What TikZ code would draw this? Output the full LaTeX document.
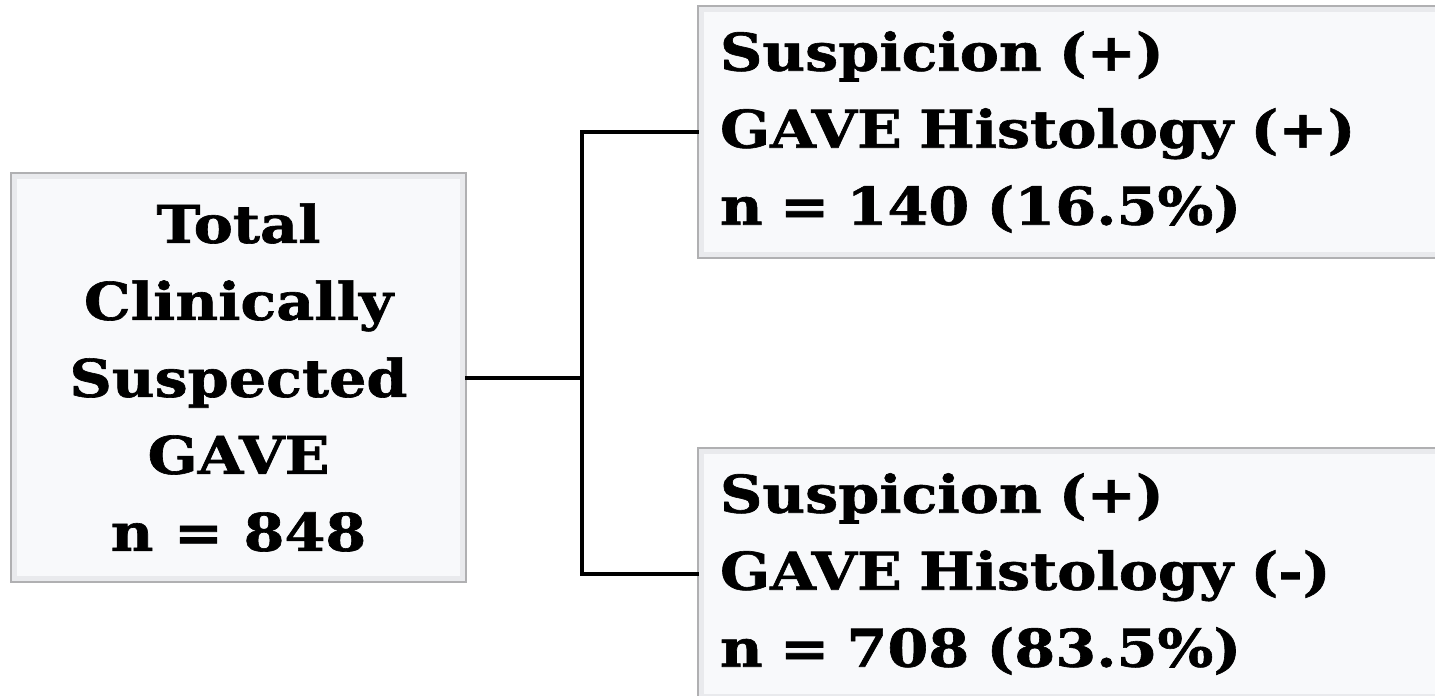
\documentclass[tikz,border=0pt]{standalone}
\usepackage{fontspec}
\setmainfont{DejaVu Serif}[BoldFeatures={FakeStretch=1.13,FakeBold=1.2}]
\usetikzlibrary{calc}
\definecolor{boxfill}{HTML}{F8F9FB}
\definecolor{boxline}{HTML}{B0B0B2}
\definecolor{bevel}{HTML}{E9EAED}
\tikzset{
  card/.style={
    draw=boxline, line width=1.125pt, fill=boxfill,
    path picture={
      \draw[bevel, line width=9pt]
        (path picture bounding box.south west) rectangle
        (path picture bounding box.north east);
    },
    font=\fontsize{39}{57.75}\selectfont\bfseries,
    inner xsep=16.5pt, inner ysep=0pt
  },
  conn/.style={draw=black, line width=3pt, line cap=rect}
}
\begin{document}
\begin{tikzpicture}[x=0.75pt,y=-0.75pt]
  \useasboundingbox (0,0) rectangle (1435,696);
  \clip (0,0) rectangle (1435,696);
  \fill[white] (0,0) rectangle (1435,696);

  % root box
  \node[card, minimum width=341.25pt, minimum height=306.75pt, align=center]
    (total) at (238.5,377.5)
    {Total\\Clinically\\Suspected\\GAVE\\n = 848};

  % outcome boxes, running past the right edge
  \node[card, minimum width=571.5pt, minimum height=189pt,
        text width=538.5pt, align=left]
    (pos) at (1079,132)
    {Suspicion (+)\\GAVE Histology (+)\\n = 140 (16.5\%)};
  \node[card, minimum width=571.5pt, minimum height=189pt,
        text width=538.5pt, align=left]
    (neg) at (1079,574)
    {Suspicion (+)\\GAVE Histology (-)\\n = 708 (83.5\%)};

  % bracket connector
  \coordinate (split) at (582,377.5);
  \draw[conn] (total.east) -- (split);
  \draw[conn] (pos.west) -| (split) |- (neg.west);
\end{tikzpicture}
\end{document}
